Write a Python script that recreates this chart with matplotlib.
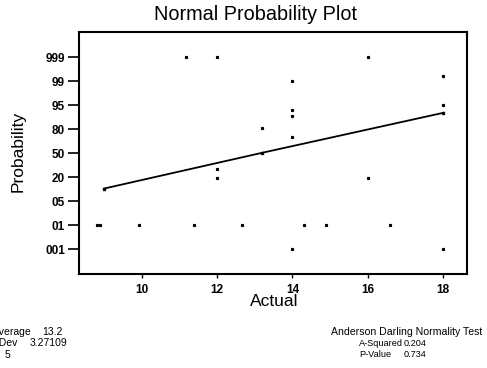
import numpy as np
import matplotlib.pyplot as plt

plt.rcParams['font.family'] = ['Liberation Sans', 'DejaVu Sans']

# probability scale labels, bottom to top (one slot each)
prob_labels = ['001', '01', '05', '20', '50', '80', '95', '99', '999']
x_ticks = [10, 12, 14, 16, 18]

# plotted points: Actual value, position on the probability scale (slot units)
pts_x = [11.17, 12.0, 16.0, 14.0, 18.0, 18.0, 14.0, 14.0, 13.2, 14.0, 12.0, 12.0, 16.0,
         8.83, 8.9, 9.92, 11.38, 12.65, 14.32, 14.88, 16.58, 14.0, 18.0]
pts_y = [8.0, 8.0, 8.0, 7.0, 7.2, 6.0, 5.8, 5.55, 5.05, 4.68, 3.35, 2.95, 2.95,
         1.02, 1.02, 1.02, 1.02, 1.02, 1.02, 1.02, 1.02, 0.0, 0.0]

# fitted line (mean 13.2 sits at 50)
fit_x = [9.0, 13.2, 18.0]
fit_y = [2.53, 4.02, 5.68]

stats_left = [('Average', '13.2'), ('StDev', '3.27109'), ('N', '5')]
ad_title = 'Anderson Darling Normality Test'
ad_rows = [('A-Squared', '0.204'), ('P-Value', '0.734')]

W, H = 487, 368
fig = plt.figure(figsize=(W / 100, H / 100), dpi=100)
ax = fig.add_axes([79 / W, 1 - 274 / H, (467 - 79) / W, (274 - 32) / H])

ax.plot(fit_x, fit_y, color='black', lw=1.3)
ax.plot(fit_x, fit_y, ls='none', marker='s', ms=2, color='black')
ax.plot(pts_x, pts_y, ls='none', marker='s', ms=1.3, color='black')

ax.set_xlim(8.34, 18.63)
ax.set_ylim(-1.02, 9.04)
ax.set_xticks(x_ticks)
ax.set_xticklabels([str(v) for v in x_ticks], fontsize=8.5, fontweight='bold')
ax.set_yticks(np.arange(len(prob_labels)))
ax.set_yticklabels(prob_labels, fontsize=8.5, fontweight='bold')
ax.tick_params(axis='y', direction='out', length=8, width=1.2, pad=2)
ax.tick_params(axis='x', direction='out', length=3, width=1.0, pad=4)
for s in ax.spines.values():
    s.set_linewidth(1.5)

fig.text(255 / W, 1 - 14 / H, 'Normal Probability Plot', fontsize=14.3, ha='center', va='center')
fig.text(18 / W, 1 - 151 / H, 'Probability', fontsize=12.5, rotation=90, ha='center', va='center')
fig.text(274 / W, 1 - 302 / H, 'Actual', fontsize=12.5, ha='center', va='center')

left_x = [-7, -10, -12]
val_x = [42, 30, 5]
for i, (lab, val) in enumerate(stats_left):
    yp = 1 - (332 + 11.5 * i) / H
    fig.text(left_x[i] / W, yp, lab, fontsize=7.5, ha='left', va='center')
    fig.text(val_x[i] / W, yp, val, fontsize=7.5, ha='left', va='center')

fig.text(331 / W, 1 - 332 / H, ad_title, fontsize=7.6, ha='left', va='center')
for i, (lab, val) in enumerate(ad_rows):
    yp = 1 - (343.5 + 11 * i) / H
    fig.text(359 / W, yp, lab, fontsize=6.6, ha='left', va='center')
    fig.text(404 / W, yp, val, fontsize=6.6, ha='left', va='center')

fig.savefig('out.png', dpi=100)
